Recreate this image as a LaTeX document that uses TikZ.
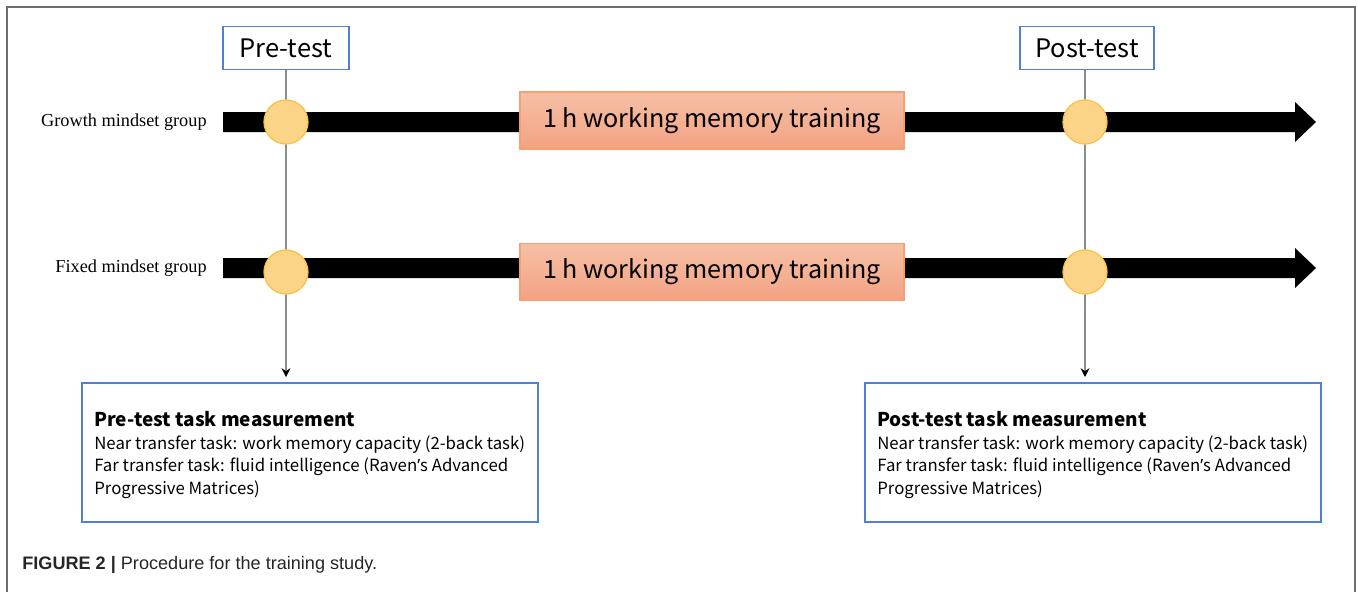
\documentclass[tikz,border=0pt]{standalone}
\usepackage{fontspec}
\setmainfont{Noto Sans CJK SC}
\newfontfamily\grpfont{Liberation Serif}
\newfontfamily\capfont{Liberation Sans}
\newfontfamily\aposfont{Noto Sans}
\usetikzlibrary{positioning,arrows.meta}

\definecolor{framegray}{HTML}{6E6E6E}
\definecolor{boxblue}{HTML}{4F7FD6}
\definecolor{dotfill}{HTML}{FCD488}
\definecolor{dotline}{HTML}{F5C245}
\definecolor{traintop}{HTML}{F5C0A6}
\definecolor{trainbot}{HTML}{F4A282}
\definecolor{trainline}{HTML}{F6A072}
\definecolor{linegray}{HTML}{8C8C8C}

\newcommand{\apos}{{\aposfont\char"2019}}

\tikzset{
  testbox/.style={draw=boxblue, line width=0.8pt, fill=white, minimum width=126*0.02cm, minimum height=43*0.02cm, inner sep=0pt, font=\fontsize{14.5}{17}\selectfont},
  dot/.style={draw=dotline, line width=0.7pt, fill=dotfill, circle, minimum size=44*0.02cm, inner sep=0pt},
  train/.style={draw=trainline, line width=0.6pt, top color=traintop, bottom color=trainbot, minimum width=384*0.02cm, minimum height=57*0.02cm, inner sep=0pt, font=\fontsize{14.3}{17}\selectfont},
  grp/.style={anchor=east, inner sep=0pt, font=\grpfont\fontsize{10.4}{13}\selectfont},
  measbox/.style={draw=boxblue, line width=0.8pt, minimum width=456*0.02cm, minimum height=139*0.02cm, inner sep=0pt},
  meastext/.style={anchor=west, align=left, inner sep=0pt, font=\fontsize{9.55}{12.75}\selectfont},
  bar/.style={fill=black}
}

\begin{document}
\begin{tikzpicture}[x=0.02cm, y=-0.02cm]
\useasboundingbox (0,0) rectangle (1358,592);
\draw[framegray, line width=1.1pt] (7,592) -- (7,7) -- (1355,7) -- (1355,592);

% time points
\node[testbox] (pre) at (286,48) {Pre-test};
\node[testbox, minimum width=134*0.02cm] (post) at (1087,48) {Post-test};

% measurement boxes
\node[measbox] (premeas) at (310,452.5) {};
\node[measbox] (postmeas) at (1093,452.5) {};
\node[meastext] (pretext) at (94,455) {{\bfseries\fontsize{10.8}{14}\selectfont Pre-test task measurement}\\Near transfer task: work memory capacity (2-back task)\\Far transfer task: fluid intelligence (Raven\apos s Advanced\\Progressive Matrices)};
\node[meastext] (posttext) at (877,455) {{\bfseries\fontsize{10.8}{14}\selectfont Post-test task measurement}\\Near transfer task: work memory capacity (2-back task)\\Far transfer task: fluid intelligence (Raven\apos s Advanced\\Progressive Matrices)};

% dots on the time lines
\coordinate (pregrowthc) at (286,122);
\coordinate (postgrowthc) at (1085,122);

% vertical connectors
\draw[linegray, line width=0.8pt, -{Stealth[length=5pt,width=5pt,color=black]}, shorten >=3pt] (pre.south) -- (pre.south |- premeas.north);
\draw[linegray, line width=0.8pt, -{Stealth[length=5pt,width=5pt,color=black]}, shorten >=3pt] (postgrowthc |- post.south) -- (postgrowthc |- postmeas.north);

% group time lines
\foreach \y/\name/\txt in {122/growth/Growth mindset group, 268/fixed/Fixed mindset group}{
  \fill[bar] (223,\y-10) -- (1295,\y-10) -- (1295,\y-20) -- (1316,\y) -- (1295,\y+20) -- (1295,\y+10) -- (223,\y+10) -- cycle;
  \node[grp] (\name) at (207,\y) {\txt};
}
\node[dot] (pregrowth) at (pregrowthc) {};
\node[dot] (postgrowth) at (postgrowthc) {};
\node[dot] (prefixed) at (286,272) {};
\node[dot] (postfixed) at (1085,272) {};
\node[train] (traingrowth) at (712,120.5) {1 h working memory training};
\node[train] (trainfixed) at (712,272) {1 h working memory training};

% caption
\node[anchor=west, inner sep=0pt, font=\capfont\fontsize{10.3}{12}\selectfont, text=black!85] (caption) at (22,565) {\textbf{FIGURE 2 |} Procedure for the training study.};
\end{tikzpicture}
\end{document}
